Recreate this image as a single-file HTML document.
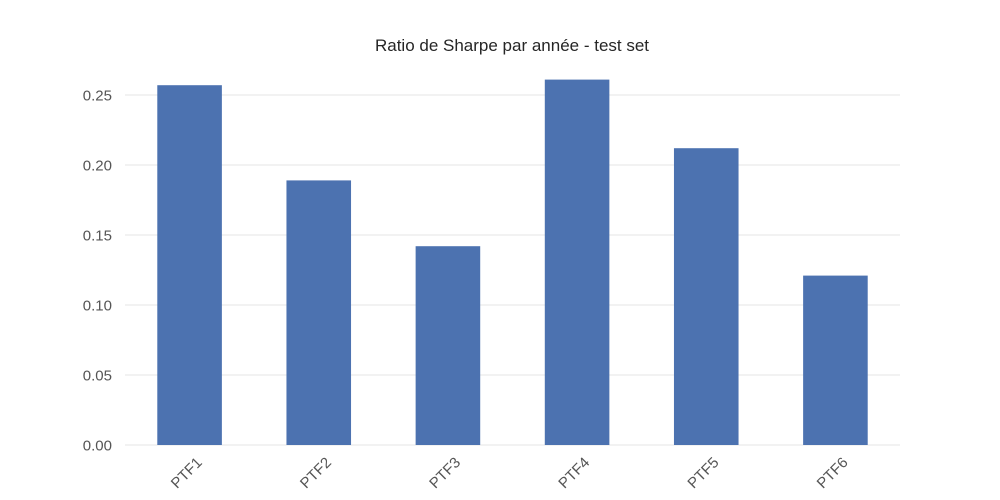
<!DOCTYPE html>
<html><head><meta charset="utf-8"><style>
html,body{margin:0;padding:0;background:#fff;}
svg{display:block;font-family:"Liberation Sans","DejaVu Sans",sans-serif;}
</style></head><body>
<svg id="chart" width="1000" height="500" xmlns="http://www.w3.org/2000/svg">
<text x="512" y="51" text-anchor="middle" font-size="17" fill="#262626">Ratio de Sharpe par année - test set</text>
<g id="grid"></g><g id="bars"></g><g id="yticks"></g><g id="xticks"></g>
</svg>
<script>
const categories = ["PTF1","PTF2","PTF3","PTF4","PTF5","PTF6"];
const values = [0.257, 0.189, 0.142, 0.261, 0.212, 0.121];
const yTicks = [0, 0.05, 0.10, 0.15, 0.20, 0.25];
const yTickLabels = ["0.00","0.05","0.10","0.15","0.20","0.25"];
const plotLeft=125, plotRight=900, plotTop=60, plotBottom=445, yMax=0.275;
const ns="http://www.w3.org/2000/svg";
function yScale(v){return plotBottom-(v/yMax)*(plotBottom-plotTop);}
const step=(plotRight-plotLeft)/categories.length;
function xScale(i){return plotLeft+step*(i+0.5);}
const grid=document.getElementById('grid'), bars=document.getElementById('bars'),
yt=document.getElementById('yticks'), xt=document.getElementById('xticks');
yTicks.forEach((t,i)=>{
  const l=document.createElementNS(ns,'line');
  
  
  l.setAttribute('x1',plotLeft);l.setAttribute('x2',plotRight);
  l.setAttribute('y1',yScale(t));l.setAttribute('y2',yScale(t));
  l.setAttribute('stroke','#e6e6e6');l.setAttribute('stroke-width','1');
  grid.appendChild(l);
  const tx=document.createElementNS(ns,'text');
  
  
  tx.setAttribute('x',112);tx.setAttribute('y',yScale(t)+5.5);
  tx.setAttribute('text-anchor','end');tx.setAttribute('font-size','15');tx.setAttribute('fill','#555');
  tx.textContent=yTickLabels[i];yt.appendChild(tx);
});
categories.forEach((c,i)=>{
  const w=step*0.5;
  const r=document.createElementNS(ns,'rect');
  
  
  r.setAttribute('x',xScale(i)-w/2);r.setAttribute('width',w);
  r.setAttribute('y',yScale(values[i]));r.setAttribute('height',plotBottom-yScale(values[i]));
  r.setAttribute('fill','#4c72b0');
  bars.appendChild(r);
  const tx=document.createElementNS(ns,'text');
  
  
  const cx=xScale(i)+6, cy=456;
  tx.setAttribute('x',cx);tx.setAttribute('y',cy);
  tx.setAttribute('text-anchor','end');tx.setAttribute('font-size','15');tx.setAttribute('fill','#555');
  tx.setAttribute('transform','rotate(-45 '+cx+' '+cy+')');
  tx.setAttribute('dominant-baseline','hanging');
  tx.textContent=c;xt.appendChild(tx);
});
</script>
</body></html>
